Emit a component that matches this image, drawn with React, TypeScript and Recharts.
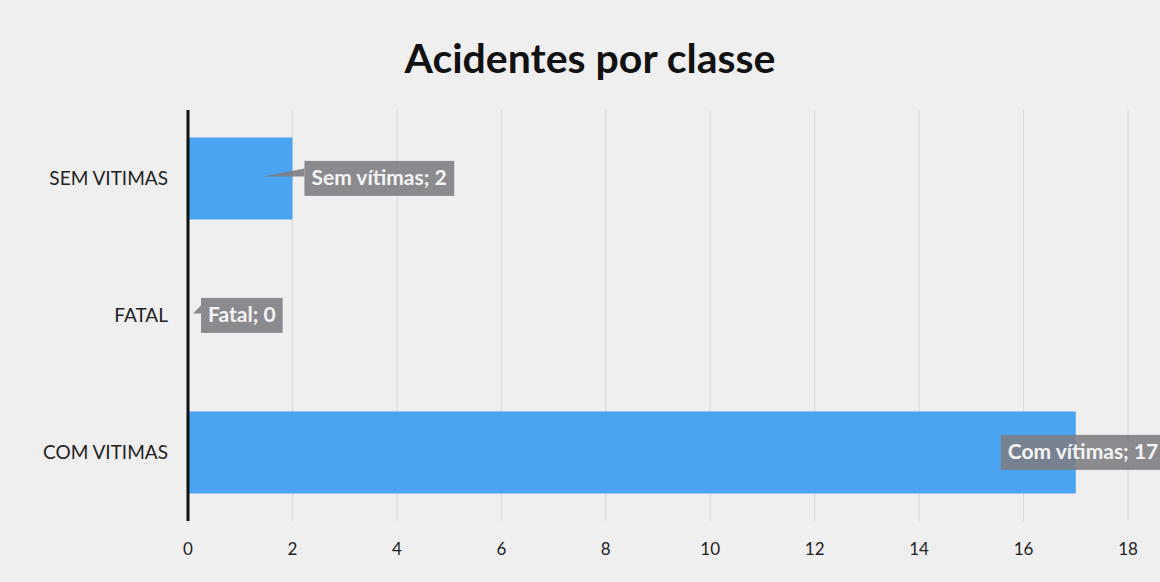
import React from "react"
import { BarChart, Bar, XAxis, YAxis, CartesianGrid, LabelList } from "recharts"

const categories = ["SEM VITIMAS", "FATAL", "COM VITIMAS"]
const labelNames = ["Sem vítimas", "Fatal", "Com vítimas"]
const values = [2, 0, 17]
const xTicks = [0, 2, 4, 6, 8, 10, 12, 14, 16, 18]

const data = categories.map((c, i) => ({ name: c, label: labelNames[i], value: values[i] }))

const W = 1160
const H = 582
const FONT = "Lato, 'Open Sans', sans-serif"

function measure(text: string, font: string) {
  if (typeof document === "undefined") return text.length * 10.5
  const c = document.createElement("canvas").getContext("2d")
  if (!c) return text.length * 10.5
  c.font = font
  return c.measureText(text).width
}

const CalloutLabel = (props: any) => {
  const { x, y, width, height, value } = props
  const i = labelNames.indexOf(value)
  const text = `${labelNames[i]}; ${values[i]}`
  const tw = measure(text, `bold 21px ${FONT}`)
  const boxW = tw + 14
  const boxH = 35
  const end = x + width
  const cy = y + height / 2
  const outside = end + 12 + boxW <= W
  const boxX = outside ? end + 12 : end - 75
  const boxY = cy - boxH / 2
  const tip = Math.max(x + width * 0.72, x + 5)
  return (
    <g>
      {outside && (
        <polygon
          points={`${boxX},${cy - 10} ${boxX},${cy - 2} ${tip},${cy - 2}`}
          fill="#7d7d82"
          opacity={0.9}
        />
      )}
      <rect x={boxX} y={boxY} width={boxW} height={boxH} fill="#7d7d82" opacity={0.88} />
      <text
        x={boxX + 7}
        y={cy + 1}
        fill="#f4f4f4"
        fontSize={21}
        fontWeight="bold"
        fontFamily={FONT}
        dominantBaseline="middle"
      >
        {text}
      </text>
    </g>
  )
}

export default function App() {
  return (
    <div style={{ position: "absolute", left: 0, top: 0, width: W, height: H, background: "#efefef", overflow: "hidden" }}>
      <div
        style={{
          position: "absolute",
          left: 0,
          top: 33,
          width: 1180,
          textAlign: "center",
          fontFamily: FONT,
          fontWeight: "bold",
          fontSize: 41,
          color: "#111",
        }}
      >
        Acidentes por classe
      </div>
      <BarChart
        width={W}
        height={H}
        data={data}
        layout="vertical"
        margin={{ top: 110, right: 32, left: 0, bottom: 21 }}
        barCategoryGap="20%"
      >
        <CartesianGrid horizontal={false} stroke="#dadada" strokeWidth={1} />
        <XAxis
          type="number"
          domain={[0, 18]}
          ticks={xTicks}
          axisLine={false}
          tickLine={false}
          tickSize={0}
          tickMargin={22}
          height={40}
          tick={{ fontSize: 17, fill: "#222", fontFamily: FONT }}
        />
        <YAxis
          type="category"
          dataKey="name"
          width={188}
          axisLine={{ stroke: "#111", strokeWidth: 3 }}
          tickLine={false}
          tickMargin={14}
          tick={{ fontSize: 19, fill: "#222", fontFamily: FONT }}
        />
        <Bar dataKey="value" fill="#4ba4f2" minPointSize={1} isAnimationActive={false}>
          <LabelList dataKey="label" content={CalloutLabel} />
        </Bar>
      </BarChart>
    </div>
  )
}
